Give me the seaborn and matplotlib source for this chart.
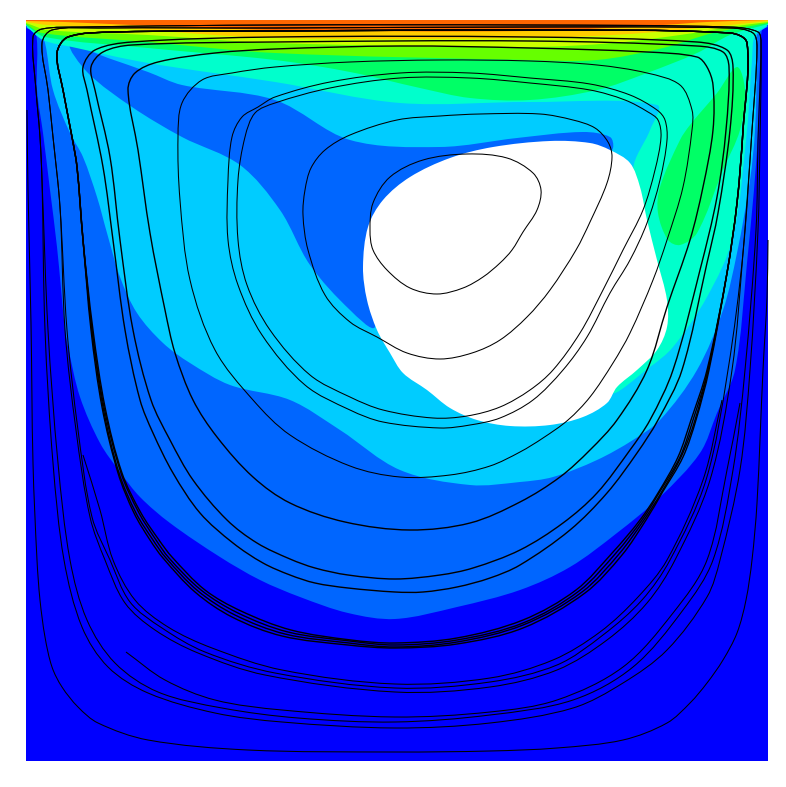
import numpy as np
import pandas as pd
import matplotlib.pyplot as plt
import seaborn as sns
from matplotlib.path import Path
from matplotlib.patches import PathPatch

# Contour bands (x, y in picture pixels)
level_colors = ['#0000ff', '#0066ff', '#00ccff', '#00ffcc', '#00ff66', '#66ff00', '#ccff00', '#ffcc00', '#ff6600']

cavity = [(26, 20), (768, 20), (768, 761), (26, 761)]

# Open edges: these get closed along the top of the cavity
band_1 = [(26, 28), (36, 33), (37, 90), (43, 133), (50, 190), (57, 247), (65, 330), (68, 347), (80, 397), (100, 443),
          (120, 472), (140, 497), (170, 523), (220, 557), (260, 580), (300, 597), (348, 613), (395, 619), (457, 607),
          (520, 590), (570, 567), (617, 533), (660, 497), (700, 453), (717, 413), (735, 370), (747, 263), (757, 150),
          (760, 60), (762, 30), (768, 27)]
band_2 = [(26, 27), (40, 36), (45, 43), (53, 90), (70, 133), (83, 157), (97, 197), (107, 233), (120, 277), (137, 313),
          (163, 343), (190, 363), (230, 385), (290, 400), (340, 430), (400, 470), (470, 485), (520, 482), (553, 477),
          (597, 460), (633, 440), (660, 420), (697, 370), (723, 310), (737, 253), (750, 180), (755, 130), (757, 60),
          (757, 35), (768, 26)]
band_3 = [(26, 26), (43, 40), (72, 47), (148, 63), (275, 82), (400, 103), (530, 102), (657, 105), (650, 130), (633, 170),
          (640, 300), (612, 392), (650, 367), (673, 347), (707, 297), (733, 237), (747, 130), (752, 60),
          (755, 35), (768, 25)]
band_4 = [(26, 25), (45, 37), (148, 48), (275, 60), (350, 72), (420, 88), (470, 98), (530, 100), (597, 90), (647, 73),
          (697, 53), (730, 35), (768, 24)]
band_5 = [(26, 24), (42, 33), (148, 42), (275, 53), (530, 60), (597, 60), (663, 48), (713, 33), (768, 23)]
band_6 = [(26, 23), (48, 30), (148, 35), (275, 43), (530, 47), (613, 43), (680, 35), (730, 27), (768, 22)]
band_7 = [(26, 22), (48, 25), (115, 28), (275, 38), (530, 38), (613, 35), (680, 30), (730, 25), (768, 21)]
band_8 = [(26, 21), (65, 22), (132, 25), (275, 30), (530, 31), (663, 25), (707, 22), (768, 20)]

# Closed shapes
tongue = [(70, 45), (108, 58), (148, 72), (182, 85), (275, 100), (350, 140), (440, 147), (517, 138), (583, 132),
          (610, 137), (613, 148), (605, 155), (500, 170), (380, 250), (375, 327), (350, 310), (310, 265), (280, 210),
          (240, 165), (182, 137), (132, 107), (88, 73), (70, 45)]
blob_4 = [(737, 67), (717, 93), (690, 125), (680, 140), (660, 187), (658, 213), (668, 240), (680, 245), (697, 233),
          (723, 170), (740, 130), (745, 90), (737, 67)]
hole = [(610, 150), (630, 163), (640, 187), (647, 220), (657, 260), (667, 300), (667, 327), (657, 350), (637, 370),
        (617, 387), (607, 403), (583, 417), (550, 425), (510, 426), (477, 420), (450, 408), (427, 390), (403, 373),
        (390, 353), (377, 330), (367, 300), (363, 267), (368, 227), (383, 200), (410, 177), (450, 158), (493, 147),
        (550, 141), (590, 143), (610, 150)]

# Streamlines
loop_a = [(370, 230), (373, 203), (390, 177), (423, 160), (467, 154), (507, 158), (533, 173), (541, 190), (537, 210),
          (523, 232), (512, 250), (500, 263), (483, 277), (463, 288), (437, 294), (410, 288), (387, 270), (373, 250),
          (370, 230)]
loop_b = [(305, 190), (311, 168), (325, 150), (350, 135), (397, 120), (440, 116), (480, 114), (540, 114), (573, 120),
          (595, 128), (608, 142), (612, 157), (607, 183), (590, 222), (576, 250), (550, 290), (527, 317), (500, 340),
          (472, 353), (440, 359), (407, 353), (377, 337), (350, 322), (325, 295), (308, 250), (303, 215), (305, 190)]
loop_c = [(658, 120), (661, 137), (655, 170), (643, 210), (623, 250), (603, 290), (580, 333), (553, 370), (530, 390),
          (500, 407), (467, 416), (433, 418), (383, 410), (350, 397), (310, 375), (270, 330), (247, 285), (238, 240),
          (238, 180), (245, 137), (255, 113), (275, 103), (330, 88), (400, 78), (470, 78), (530, 83), (590, 90),
          (625, 100), (648, 112), (658, 120)]
loop_d = [(665, 120), (667, 140), (660, 180), (647, 223), (630, 260), (610, 293), (587, 337), (563, 370), (533, 400),
          (500, 418), (470, 425), (440, 428), (383, 422), (350, 410), (305, 385), (262, 335), (238, 285), (228, 240),
          (228, 180), (232, 137), (242, 117), (258, 107), (275, 97), (330, 82), (400, 73), (470, 73), (530, 78),
          (590, 84), (630, 95), (657, 110), (665, 120)]
loop_e = [(178, 137), (182, 103), (202, 80), (232, 73), (275, 67), (350, 62), (440, 60), (530, 61), (597, 65), (647, 73),
          (680, 85), (692, 110), (692, 130), (683, 187), (667, 240), (653, 280), (630, 333), (613, 363), (590, 397),
          (568, 420), (543, 438), (520, 452), (490, 466), (450, 475), (400, 477), (350, 466), (290, 435), (253, 400),
          (215, 350), (190, 280), (180, 200), (178, 137)]
loop_f = [(128, 90), (135, 73), (158, 62), (215, 53), (275, 49), (400, 46), (530, 48), (647, 52), (697, 57), (707, 67),
          (713, 85), (713, 130), (703, 187), (690, 240), (667, 307), (647, 370), (617, 420), (590, 450), (560, 477),
          (520, 502), (470, 523), (410, 530), (345, 522), (290, 503), (253, 477), (217, 437), (193, 400), (175, 353),
          (165, 310), (150, 233), (138, 150), (128, 90)]
loop_g = [(87, 90), (103, 167), (113, 240), (125, 330), (140, 400), (153, 433), (173, 473), (200, 513), (233, 543),
          (263, 563), (290, 575), (315, 583), (348, 588), (395, 592), (423, 592), (457, 587), (490, 578), (520, 565),
          (570, 530), (607, 493), (637, 453), (658, 420), (682, 370), (707, 263), (718, 213),
          (730, 130), (733, 67), (727, 50), (697, 42), (530, 37), (275, 37), (132, 42), (95, 50), (83, 67), (87, 90)]
loop_h = [(95, 90), (110, 157), (120, 240), (133, 330), (151, 400), (170, 440), (193, 480), (227, 520), (257, 543),
          (290, 559), (315, 568), (348, 575), (395, 579), (440, 575), (473, 568), (520, 550), (563, 523), (597, 493),
          (630, 450), (650, 420), (673, 370), (700, 270), (717, 197), (726, 130), (729, 67),
          (723, 52), (697, 46), (530, 41), (275, 42), (132, 45), (103, 52), (91, 67), (95, 90)]

s_upper = [(727, 273), (737, 203), (743, 130), (747, 43), (730, 33), (530, 30), (275, 31), (115, 32), (68, 37), (57, 53),
           (63, 90), (72, 137), (77, 167), (83, 240)]
s_lower_1 = [(91, 330), (102, 407), (118, 473), (134, 513), (150, 540), (163, 558), (195, 592), (232, 617), (282, 636),
             (348, 645), (395, 648), (457, 644), (523, 628), (585, 593), (622, 555), (646, 520), (662, 493), (683, 457),
             (696, 420), (709, 370), (727, 273)]
s_lower_2 = [(92, 330), (103, 407), (119, 473), (136, 513), (153, 540), (166, 558), (198, 591), (235, 615), (285, 634),
             (349, 643), (395, 647), (457, 642), (523, 625), (582, 592), (619, 554), (644, 520), (661, 493), (681, 457),
             (695, 420), (708, 370), (727, 273)]
s_lower_3 = [(92, 330), (104, 407), (121, 473), (139, 513), (156, 540), (169, 558), (201, 590), (238, 613), (288, 632),
             (350, 641), (395, 645), (457, 640), (523, 623), (579, 591), (616, 553), (642, 520), (659, 493), (680, 457),
             (693, 420), (708, 370), (727, 273)]
s_lower_4 = [(93, 330), (105, 407), (122, 473), (141, 513), (159, 540), (172, 557), (205, 590), (241, 611), (291, 630),
             (351, 640), (395, 643), (457, 638), (523, 620), (576, 590), (613, 552), (640, 520), (658, 493), (678, 457),
             (691, 420), (707, 370), (727, 273)]

r_upper = [(743, 253), (752, 130), (757, 47), (753, 33), (730, 28), (530, 27), (275, 28), (98, 28), (52, 30), (42, 43),
           (48, 90), (53, 137), (60, 207)]
r_lower_1 = [(65, 330), (76, 430), (90, 517), (105, 560), (125, 603), (155, 630), (198, 653), (265, 675), (395, 692),
             (490, 687), (557, 670), (607, 640), (647, 603), (675, 560), (710, 480), (732, 370), (743, 253)]
r_lower_2 = [(67, 330), (78, 430), (92, 517), (110, 560), (130, 602), (162, 628), (205, 652), (275, 673), (395, 688),
             (490, 682), (557, 665), (603, 635), (642, 600), (670, 560), (706, 480), (728, 370), (743, 253)]
r_short = [(83, 455), (100, 510), (113, 560), (135, 600), (168, 627), (212, 648), (282, 670), (395, 684), (490, 678),
           (553, 660), (600, 632), (638, 597), (667, 560), (703, 480), (722, 400)]

q_upper = [(761, 43), (758, 32), (730, 27), (530, 25), (275, 25), (82, 27), (42, 29), (33, 37), (36, 90), (40, 137),
           (42, 180)]
q_lower_1 = [(45, 330), (53, 463), (64, 560), (82, 627), (108, 667), (148, 693), (215, 713), (282, 722), (395, 728),
             (490, 723), (573, 708), (623, 683), (667, 650), (707, 597), (720, 560), (740, 470), (750, 370), (758, 230),
             (760, 140), (761, 43)]
q_lower_2 = [(48, 330), (58, 463), (70, 560), (87, 620), (115, 663), (158, 692), (222, 708), (298, 718), (395, 722),
             (490, 715), (573, 700), (633, 667), (683, 610), (713, 560), (733, 470), (745, 370), (756, 230), (758, 140),
             (761, 43)]
q_short = [(126, 652), (165, 680), (215, 700), (282, 710), (395, 717), (490, 712), (557, 700), (623, 667), (673, 613),
           (707, 560), (727, 470), (740, 403)]

outer = [(27, 110), (28, 190), (31, 323), (33, 463), (37, 560), (40, 600), (45, 637), (52, 667), (62, 687), (78, 707),
         (98, 723), (148, 740), (248, 750), (395, 752), (490, 751), (557, 748), (623, 740), (667, 723), (690, 703),
         (707, 683), (723, 660), (737, 633), (746, 600), (752, 560), (757, 503), (763, 370), (767, 297), (768, 240)]

thin_lines = [loop_a, loop_b, loop_c, loop_d, loop_e, outer, q_short, r_short, q_upper + q_lower_1, q_upper + q_lower_2,
              r_upper + r_lower_1, r_upper + r_lower_2]
heavy_lines = [loop_f, loop_g, loop_h, s_upper + s_lower_1, s_upper + s_lower_2, s_upper + s_lower_3,
               s_upper + s_lower_4]


def lines_table(lines):
    rows = []
    for i, pts in enumerate(lines):
        for j, (x, y) in enumerate(pts):
            rows.append({'line': i, 'order': j, 'x': x, 'y': y})
    return pd.DataFrame(rows)


# Bezier path through the read points, so the curves stay round
def curve_path(pts, extra=()):
    p = np.asarray(pts, dtype=float)
    closed = len(p) > 2 and np.allclose(p[0], p[-1])
    if closed:
        prev_p = np.vstack([p[-2], p[:-1]])
        next_p = np.vstack([p[1:], p[1]])
    else:
        prev_p = np.vstack([p[0], p[:-1]])
        next_p = np.vstack([p[1:], p[-1]])
    d_prev = np.hypot(*(p - prev_p).T)
    d_next = np.hypot(*(next_p - p).T)
    slope = (next_p - prev_p) / np.maximum(d_prev + d_next, 1e-6)[:, None]
    verts = [p[0]]
    codes = [Path.MOVETO]
    for i in range(len(p) - 1):
        step = np.hypot(*(p[i + 1] - p[i])) / 3
        verts += [p[i] + slope[i] * step, p[i + 1] - slope[i + 1] * step, p[i + 1]]
        codes += [Path.CURVE4] * 3
    for v in extra:
        verts.append(np.asarray(v, dtype=float))
        codes.append(Path.LINETO)
    return Path(verts, codes)


sns.set_theme(style='white')
palette = sns.color_palette(level_colors)

fig, ax = plt.subplots(figsize=(7.86, 7.87), dpi=100)
ax.set_position([0, 0, 1, 1])

ax.fill(*zip(*cavity), color=palette[0], lw=0)
top_edge = [(768, 20), (26, 20)]
layers = [(band_1, 1, []), (band_2, 2, []), (tongue, 1, []), (band_3, 3, top_edge), (band_4, 4, top_edge),
          (blob_4, 4, []), (band_5, 5, top_edge), (band_6, 6, top_edge), (band_7, 7, top_edge), (band_8, 8, top_edge)]
for pts, level, extra in layers:
    ax.add_patch(PathPatch(curve_path(pts, extra), fc=palette[level], ec='none', lw=0))
ax.add_patch(PathPatch(curve_path(hole), fc='white', ec='none', lw=0))

sns.lineplot(data=lines_table(thin_lines), x='x', y='y', units='line', estimator=None, sort=False,
             color='black', lw=0.75, ax=ax)
sns.lineplot(data=lines_table(heavy_lines), x='x', y='y', units='line', estimator=None, sort=False,
             color='black', lw=1.0, ax=ax)

# Round off what seaborn drew
for line in list(ax.lines):
    ax.add_patch(PathPatch(curve_path(line.get_xydata()), fc='none', ec=line.get_color(), lw=line.get_linewidth()))
    line.remove()

ax.set_xlim(0, 786)
ax.set_ylim(787, 0)
ax.set_axis_off()

fig.savefig('out.png', dpi=100)
